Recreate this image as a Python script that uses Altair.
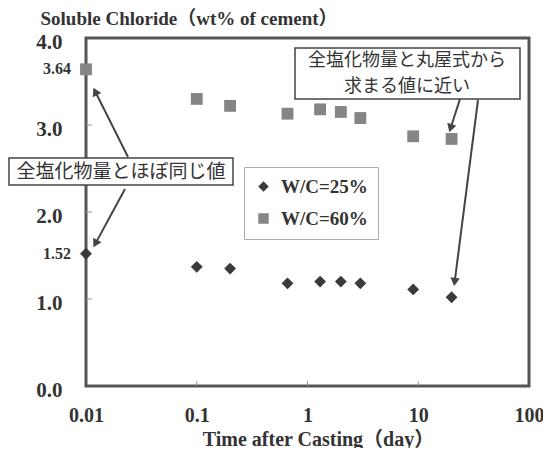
import math
import altair as alt
import pandas as pd

# ---- data ----
days = [0.01, 0.1, 0.2, 0.66, 1.3, 2, 3, 9, 20]
wc25 = [1.52, 1.37, 1.35, 1.18, 1.20, 1.20, 1.18, 1.11, 1.02]
wc60 = [3.64, 3.30, 3.22, 3.13, 3.18, 3.15, 3.08, 2.87, 2.84]
series = ["W/C=25%", "W/C=60%"]

x_ticks = [0.01, 0.1, 1, 10, 100]
y_ticks = [0, 1, 2, 3, 4]
y_extra = [1.52, 3.64]
inner_x_ticks = [0.1, 1, 10]
inner_y_ticks = [1, 2, 3]

# annotation boxes / texts / arrows (pixel offsets inside plot area)
note_lines = ["全塩化物量とほぼ同じ値", "全塩化物量と丸屋式から", "求まる値に近い"]
note_x = [35, 321, 321]
note_y = [133.5, 22.5, 48.5]
note_size = [19, 18, 18]
box_x = [-77, 209]
box_x2 = [147, 434]
box_y = [120, 10]
box_y2 = [147, 61]
arrow_from = [(42, 119), (39, 151), (374, 61), (392, 62)]
arrow_to = [(7, 49), (7, 210), (363, 95), (368, 249)]

W, H = 443, 348
SERIF = "Liberation Serif, 'Noto Sans CJK JP'"
GOTHIC = "'Noto Sans CJK JP', 'Noto Sans'"
INK = "#333333"

pts = pd.DataFrame({
    "day": days + days,
    "cl": wc25 + wc60,
    "series": [series[0]] * len(days) + [series[1]] * len(days),
})

xscale = alt.Scale(type="log", domain=[0.01, 100], nice=False)
yscale = alt.Scale(domain=[0, 4], nice=False)

xaxis = alt.Axis(values=x_ticks, format="~g", labelFont=SERIF,
                 labelFontSize=20, labelFontWeight="bold",
                 labelPadding=19, labelFlush=False,
                 title="Time after Casting（day）",
                 titleFont=SERIF, titleFontSize=20,
                 titleFontWeight="bold", titleX=232, titleY=53,
                 titleBaseline="middle", titleAlign="center")
yaxis = alt.Axis(values=y_ticks, format=".1f", labelFont=SERIF,
                 labelFontSize=21, labelFontWeight="bold",
                 labelPadding=24, labelOffset=4,
                 title="Soluble Chloride（wt% of cement）",
                 titleFont=SERIF, titleFontSize=19,
                 titleFontWeight="bold", titleAngle=0,
                 titleAlign="left", titleBaseline="middle",
                 titleX=-46, titleY=-20)

leg = alt.Legend(title=None, orient="none", legendX=158, legendY=129,
                 fillColor="white", strokeColor="#aaaaaa", padding=10,
                 rowPadding=12, labelFont=SERIF, labelFontSize=19,
                 labelFontWeight="bold", labelColor=INK, symbolSize=110,
                 labelOffset=8, symbolStrokeWidth=0)

points = alt.Chart(pts).mark_point(filled=True, opacity=1, size=140).encode(
    x=alt.X("day:Q", scale=xscale, axis=xaxis),
    y=alt.Y("cl:Q", scale=yscale, axis=yaxis),
    shape=alt.Shape("series:N", scale=alt.Scale(domain=series, range=["diamond", "square"]), legend=leg),
    color=alt.Color("series:N", scale=alt.Scale(domain=series, range=["#3a3a3a", "#858585"]), legend=leg),
)

xt = alt.Chart(pd.DataFrame({"day": inner_x_ticks})).mark_rule(color="#999999", strokeWidth=1).encode(
    x=alt.X("day:Q", scale=xscale, axis=xaxis), y=alt.value(H), y2=alt.value(H - 5))
yt = alt.Chart(pd.DataFrame({"cl": inner_y_ticks})).mark_rule(color="#999999", strokeWidth=1).encode(
    y=alt.Y("cl:Q", scale=yscale, axis=yaxis), x=alt.value(0), x2=alt.value(6))

extra = alt.Chart(pd.DataFrame({"cl": y_extra, "lab": ["1.52", "3.64"]})).mark_text(
    font=SERIF, fontSize=16, fontWeight="bold", color=INK, align="right", baseline="middle").encode(
    y=alt.Y("cl:Q", scale=yscale, axis=yaxis), x=alt.value(-15), text="lab:N")

boxes = alt.Chart(pd.DataFrame({"bx": box_x, "bx2": box_x2, "by": box_y, "by2": box_y2})).mark_rect(
    fill="white", stroke="#444444", strokeWidth=1.5).encode(
    x=alt.X("bx:Q", scale=None), x2="bx2:Q", y=alt.Y("by:Q", scale=None), y2="by2:Q")

notes = alt.Chart(pd.DataFrame({"nx": note_x, "ny": note_y, "t": note_lines, "fs": note_size})).mark_text(
    font=GOTHIC, color=INK, align="center", baseline="middle").encode(
    x=alt.X("nx:Q", scale=None), y=alt.Y("ny:Q", scale=None), text="t:N",
    size=alt.Size("fs:Q", scale=None, legend=None))

line_rows, head_rows = [], []
for (x0, y0), (x1, y1) in zip(arrow_from, arrow_to):
    dx, dy = x1 - x0, y1 - y0
    L = math.hypot(dx, dy)
    ux, uy = dx / L, dy / L
    cx, cy = x1 - ux * 5, y1 - uy * 5
    line_rows.append({"lx": x0, "ly": y0, "lx2": cx, "ly2": cy})
    head_rows.append({"hx": cx, "hy": cy, "a": math.degrees(math.atan2(dx, -dy)) % 360})

lines = alt.Chart(pd.DataFrame(line_rows)).mark_rule(color="#444444", strokeWidth=2).encode(
    x=alt.X("lx:Q", scale=None), y=alt.Y("ly:Q", scale=None), x2="lx2:Q", y2="ly2:Q")
heads = alt.Chart(pd.DataFrame(head_rows)).mark_point(
    shape="triangle-up", filled=True, color="#444444", opacity=1, size=90).encode(
    x=alt.X("hx:Q", scale=None), y=alt.Y("hy:Q", scale=None), angle=alt.Angle("a:Q", scale=None))

chart = alt.layer(points, xt, yt, extra, boxes, notes, lines, heads).properties(
    width=W, height=H,
    padding={"left": 78, "top": 30, "right": 14, "bottom": 62},
    autosize=alt.AutoSizeParams(type="none"),
    background="white",
).configure_view(stroke="#555555", strokeWidth=3).configure_axis(
    domain=False, grid=False, ticks=False, labelColor=INK, titleColor=INK)

chart.save("out.html", embed_options={"renderer": "svg", "actions": False})
